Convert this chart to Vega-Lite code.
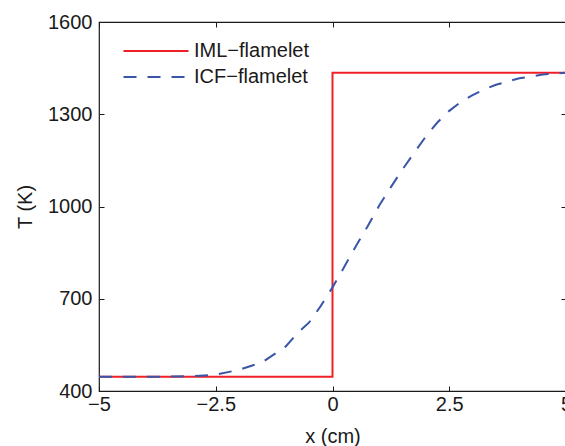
{
  "$schema": "https://vega.github.io/schema/vega-lite/v6.json",
  "width": 467,
  "height": 369,
  "autosize": {"type": "none"},
  "padding": {"left": 99, "top": 22, "right": 0, "bottom": 55},
  "config": {
    "font": "Liberation Sans",
    "view": {"stroke": "#1a1a1a", "strokeWidth": 1.2},
    "axis": {
      "domain": false,
      "grid": false,
      "tickColor": "#1a1a1a",
      "tickSize": -5,
      "tickWidth": 1,
      "labelFont": "Liberation Sans",
      "labelFontSize": 20,
      "labelColor": "#1a1a1a",
      "titleFont": "Liberation Sans",
      "titleFontSize": 20,
      "titleFontWeight": "normal",
      "titleColor": "#1a1a1a"
    },
    "legend": {
      "labelFont": "Liberation Sans",
      "labelFontSize": 20,
      "labelColor": "#1a1a1a"
    }
  },
  "data": {
    "values": [
      {"series": "IML−flamelet", "i": 0, "x": -5, "T": 446},
      {"series": "IML−flamelet", "i": 1, "x": 0, "T": 446},
      {"series": "IML−flamelet", "i": 2, "x": 0, "T": 1435},
      {"series": "IML−flamelet", "i": 3, "x": 5, "T": 1435},
      {"series": "ICF−flamelet", "i": 0, "x": -5, "T": 446},
      {"series": "ICF−flamelet", "i": 1, "x": -4.5, "T": 446},
      {"series": "ICF−flamelet", "i": 2, "x": -4, "T": 446},
      {"series": "ICF−flamelet", "i": 3, "x": -3.5, "T": 447},
      {"series": "ICF−flamelet", "i": 4, "x": -3, "T": 448},
      {"series": "ICF−flamelet", "i": 5, "x": -2.5, "T": 453},
      {"series": "ICF−flamelet", "i": 6, "x": -2, "T": 469},
      {"series": "ICF−flamelet", "i": 7, "x": -1.5, "T": 494},
      {"series": "ICF−flamelet", "i": 8, "x": -1, "T": 545},
      {"series": "ICF−flamelet", "i": 9, "x": -0.75, "T": 588},
      {"series": "ICF−flamelet", "i": 10, "x": -0.5, "T": 623},
      {"series": "ICF−flamelet", "i": 11, "x": -0.25, "T": 677},
      {"series": "ICF−flamelet", "i": 12, "x": 0, "T": 737},
      {"series": "ICF−flamelet", "i": 13, "x": 0.25, "T": 803},
      {"series": "ICF−flamelet", "i": 14, "x": 0.5, "T": 871},
      {"series": "ICF−flamelet", "i": 15, "x": 0.75, "T": 935},
      {"series": "ICF−flamelet", "i": 16, "x": 1, "T": 1003},
      {"series": "ICF−flamelet", "i": 17, "x": 1.25, "T": 1063},
      {"series": "ICF−flamelet", "i": 18, "x": 1.5, "T": 1121},
      {"series": "ICF−flamelet", "i": 19, "x": 1.75, "T": 1175},
      {"series": "ICF−flamelet", "i": 20, "x": 2, "T": 1228},
      {"series": "ICF−flamelet", "i": 21, "x": 2.25, "T": 1274},
      {"series": "ICF−flamelet", "i": 22, "x": 2.5, "T": 1311},
      {"series": "ICF−flamelet", "i": 23, "x": 2.75, "T": 1340},
      {"series": "ICF−flamelet", "i": 24, "x": 3, "T": 1362},
      {"series": "ICF−flamelet", "i": 25, "x": 3.25, "T": 1381},
      {"series": "ICF−flamelet", "i": 26, "x": 3.5, "T": 1396},
      {"series": "ICF−flamelet", "i": 27, "x": 4, "T": 1417},
      {"series": "ICF−flamelet", "i": 28, "x": 4.5, "T": 1429},
      {"series": "ICF−flamelet", "i": 29, "x": 5, "T": 1435}
    ]
  },
  "layer": [
    {
      "mark": {"type": "line", "strokeWidth": 2, "clip": true},
      "encoding": {
        "x": {
          "field": "x", "type": "quantitative",
          "scale": {"domain": [-5, 5], "nice": false, "zero": false},
          "axis": {"orient": "bottom", "values": [-5, -2.5, 0, 2.5, 5], "format": ".1~f", "labelPadding": 8, "title": "x (cm)", "titlePadding": 12, "labelFlush": false}
        },
        "y": {
          "field": "T", "type": "quantitative",
          "scale": {"domain": [400, 1600], "nice": false, "zero": false},
          "axis": {"orient": "left", "values": [400, 700, 1000, 1300, 1600], "format": "d", "labelPadding": 12, "title": "T (K)", "titlePadding": 12}
        },
        "color": {
          "field": "series", "type": "nominal",
          "scale": {"domain": ["IML−flamelet", "ICF−flamelet"], "range": ["#ee1f26", "#3a55a8"]},
          "legend": {"title": null, "orient": "none", "legendX": 45, "legendY": 17, "symbolType": "M-3,0H3", "symbolSize": 469, "symbolStrokeWidth": 2, "labelOffset": 26, "rowPadding": 4}
        },
        "strokeDash": {
          "field": "series", "type": "nominal",
          "scale": {"domain": ["IML−flamelet", "ICF−flamelet"], "range": [[1, 0], [13, 11]]},
          "legend": {"title": null, "orient": "none", "legendX": 45, "legendY": 17, "symbolType": "M-3,0H3", "symbolSize": 469, "symbolStrokeWidth": 2, "labelOffset": 26, "rowPadding": 4}
        },
        "order": {"field": "i", "type": "quantitative"}
      }
    },
    {
      "mark": {"type": "point", "opacity": 0},
      "encoding": {
        "x": {"field": "x", "type": "quantitative", "axis": {"orient": "top", "values": [-5, -2.5, 0, 2.5, 5], "labels": false, "title": null}},
        "y": {"field": "T", "type": "quantitative", "axis": {"orient": "right", "values": [400, 700, 1000, 1300, 1600], "labels": false, "title": null}}
      }
    }
  ],
  "resolve": {"axis": {"x": "independent", "y": "independent"}}
}
